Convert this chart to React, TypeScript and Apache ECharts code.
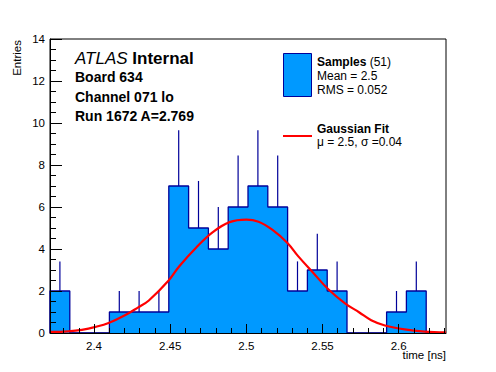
import React, { useEffect, useRef } from "react";
import * as echarts from "echarts";

// Histogram (20 bins)
const histXMin = 2.3711;
const histXMax = 2.6311;
const binWidth = 0.013;
const counts = [2, 0, 0, 1, 1, 1, 7, 5, 4, 6, 7, 6, 2, 3, 2, 0, 0, 1, 2, 0];
const errorTops = [3.41, 0, 0, 2, 2, 2, 9.65, 7.24, 6, 8.45, 9.65, 8.45, 3.41, 4.73, 3.41, 0, 0, 2, 3.41, 0];

// Gaussian fit curve
const fitX = [2.371, 2.383, 2.392, 2.401, 2.41, 2.42, 2.429, 2.436, 2.449, 2.456, 2.467, 2.478, 2.489, 2.5, 2.508, 2.517, 2.527, 2.534, 2.543, 2.554, 2.565, 2.574, 2.582, 2.591, 2.604, 2.617, 2.631];
const fitY = [0.05, 0.08, 0.15, 0.29, 0.49, 0.83, 1.22, 1.55, 2.5, 3.18, 4.06, 4.8, 5.28, 5.4, 5.3, 4.92, 4.29, 3.66, 2.94, 2.07, 1.4, 0.99, 0.61, 0.36, 0.17, 0.07, 0.03];

// Axis ticks
const xMajorTicks = [2.4, 2.45, 2.5, 2.55, 2.6];
const xMinorTicks = [2.38, 2.39, 2.41, 2.42, 2.43, 2.44, 2.46, 2.47, 2.48, 2.49, 2.51, 2.52, 2.53, 2.54, 2.56, 2.57, 2.58, 2.59, 2.61, 2.62, 2.63];
const yMin = 0;
const yMax = 14;
const yInterval = 2;

const FONT = "'Liberation Sans', Arial, Helvetica, sans-serif";
const FILL = "#0099ff";
const EDGE = "#000099";

export default function App() {
  const ref = useRef<HTMLDivElement>(null);

  useEffect(() => {
    if (!ref.current) return;
    const chart = echarts.init(ref.current, undefined, { renderer: "svg" });

    const edges = counts.map((_, i) => histXMin + binWidth * i).concat([histXMin + binWidth * counts.length]);
    const stepPts: number[][] = [[edges[0], 0]];
    counts.forEach((c, i) => {
      stepPts.push([edges[i], c]);
      stepPts.push([edges[i + 1], c]);
    });
    stepPts.push([edges[counts.length], 0]);

    const errData = counts
      .map((c, i) => [edges[i] + binWidth / 2, c, errorTops[i]])
      .filter((d) => d[1] > 0);

    const fitData = fitX.map((x, i) => [x, fitY[i]]);

    const axisText = { fontFamily: FONT, fontSize: 11.5, color: "#000" };

    chart.setOption({
      animation: false,
      backgroundColor: "#fff",
      grid: {
        left: 50,
        right: 50,
        top: 39,
        bottom: 39,
        show: true,
        borderColor: "#000",
        borderWidth: 1,
        backgroundColor: "transparent",
      },
      xAxis: [
        {
          type: "value",
          min: histXMin,
          max: histXMax,
          position: "bottom",
          z: 10,
          axisLine: { show: true, onZero: false, lineStyle: { color: "#000", width: 1 } },
          axisTick: { show: true, inside: true, length: 9, customValues: xMajorTicks, lineStyle: { color: "#000" } },
          axisLabel: { show: true, customValues: xMajorTicks, margin: 7, ...axisText },
          splitLine: { show: false },
        },
        {
          type: "value",
          min: histXMin,
          max: histXMax,
          position: "bottom",
          z: 10,
          axisLine: { show: false },
          axisTick: { show: true, inside: true, length: 5, customValues: xMinorTicks, lineStyle: { color: "#000" } },
          axisLabel: { show: false },
          splitLine: { show: false },
        },
      ],
      yAxis: {
        type: "value",
        min: yMin,
        max: yMax,
        interval: yInterval,
        z: 10,
        axisLine: { show: true, lineStyle: { color: "#000", width: 1 } },
        axisTick: { show: true, inside: true, length: 12, lineStyle: { color: "#000" } },
        minorTick: { show: true, splitNumber: 4, length: 6, lineStyle: { color: "#000" } },
        axisLabel: { margin: 5, ...axisText },
        splitLine: { show: false },
        minorSplitLine: { show: false },
      },
      series: [
        {
          type: "line",
          data: stepPts,
          showSymbol: false,
          symbol: "none",
          lineStyle: { color: EDGE, width: 1.3 },
          areaStyle: { color: FILL, opacity: 1 },
          z: 2,
        },
        {
          type: "custom",
          data: errData,
          encode: { x: 0, y: [1, 2] },
          z: 3,
          renderItem: (_params: any, api: any) => {
            const p1 = api.coord([api.value(0), api.value(1)]);
            const p2 = api.coord([api.value(0), api.value(2)]);
            return {
              type: "line",
              shape: { x1: p1[0], y1: p1[1], x2: p2[0], y2: p2[1] },
              style: { stroke: EDGE, lineWidth: 1.2 },
            };
          },
        },
        {
          type: "line",
          data: fitData,
          smooth: 0.4,
          showSymbol: false,
          symbol: "none",
          lineStyle: { color: "#ff0000", width: 2.2 },
          z: 4,
        },
      ],
      graphic: [
        {
          type: "text",
          x: 75,
          y: 58,
          style: {
            text: "{i|ATLAS} {b|Internal}",
            textVerticalAlign: "middle",
            rich: {
              i: { fontFamily: FONT, fontSize: 17, fontStyle: "italic", fill: "#000" },
              b: { fontFamily: FONT, fontSize: 17, fontWeight: "bold", fill: "#000" },
            },
            font: `17px ${FONT}`,
          },
        },
        { type: "text", x: 75, y: 77, style: { text: "Board 634", font: `bold 14px ${FONT}`, fill: "#000", textVerticalAlign: "middle" } },
        { type: "text", x: 75, y: 97, style: { text: "Channel 071 lo", font: `bold 14px ${FONT}`, fill: "#000", textVerticalAlign: "middle" } },
        { type: "text", x: 75, y: 116, style: { text: "Run 1672 A=2.769", font: `bold 14px ${FONT}`, fill: "#000", textVerticalAlign: "middle" } },
        {
          type: "rect",
          shape: { x: 283.5, y: 53.5, width: 28, height: 43 },
          style: { fill: FILL, stroke: EDGE, lineWidth: 1 },
        },
        {
          type: "text",
          x: 317,
          y: 62,
          style: {
            text: "{b|Samples} {n|(51)}",
            textVerticalAlign: "middle",
            rich: {
              b: { fontFamily: FONT, fontSize: 12, fontWeight: "bold", fill: "#000" },
              n: { fontFamily: FONT, fontSize: 12, fill: "#000" },
            },
            font: `12px ${FONT}`,
          },
        },
        { type: "text", x: 317, y: 76, style: { text: "Mean = 2.5", font: `12px ${FONT}`, fill: "#000", textVerticalAlign: "middle" } },
        { type: "text", x: 317, y: 90, style: { text: "RMS = 0.052", font: `12px ${FONT}`, fill: "#000", textVerticalAlign: "middle" } },
        {
          type: "line",
          shape: { x1: 283, y1: 136, x2: 312, y2: 136 },
          style: { stroke: "#ff0000", lineWidth: 2 },
        },
        { type: "text", x: 317, y: 129, style: { text: "Gaussian Fit", font: `bold 12px ${FONT}`, fill: "#000", textVerticalAlign: "middle" } },
        { type: "text", x: 317, y: 142, style: { text: "\u03bc = 2.5, \u03c3 =0.04", font: `12px ${FONT}`, fill: "#000", textVerticalAlign: "middle" } },
        {
          type: "text",
          x: 446,
          y: 355,
          style: { text: "time [ns]", font: `11.5px ${FONT}`, fill: "#000", textAlign: "right", textVerticalAlign: "middle" },
        },
        {
          type: "text",
          x: 17,
          y: 40,
          rotation: Math.PI / 2,
          style: { text: "Entries", font: `11.5px ${FONT}`, fill: "#000", textAlign: "right", textVerticalAlign: "middle" },
        },
      ],
    });

    return () => chart.dispose();
  }, []);

  return (
    <div
      ref={ref}
      style={{ position: "absolute", left: 0, top: 0, width: 496, height: 372 }}
    />
  );
}
